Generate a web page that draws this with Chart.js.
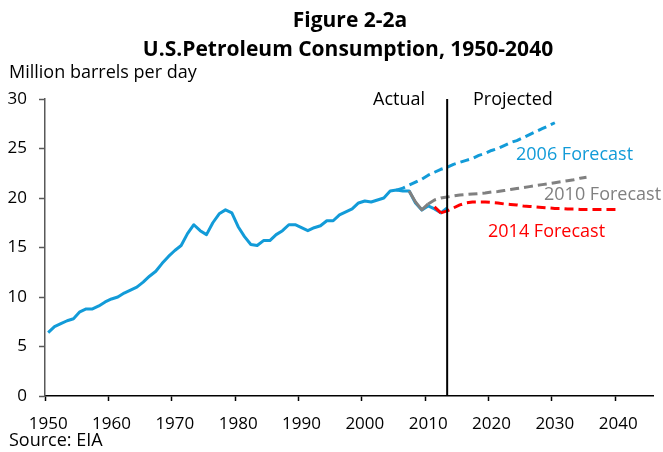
<!DOCTYPE html>
<html>
<head>
<meta charset="utf-8">
<script src="https://cdn.jsdelivr.net/npm/chart.js@4"></script>
<style>
  body { margin: 0; background: #fff; }
  #wrap { width: 663px; height: 452px; }
</style>
</head>
<body>
<div id="wrap"><canvas id="lineChart" width="663" height="452"></canvas></div>
<script>
// axis: one category per year, 1950 through 2045
var firstYear = 1950;
var lastYear = 2045;

// actual consumption, 1950-2013 (million barrels per day)
var actualStart = 1950;
var actualValues = [
    6.4, 7.0, 7.3, 7.6, 7.8, 8.5, 8.8, 8.8, 9.1, 9.5,
    9.8, 10.0, 10.4, 10.7, 11.0, 11.5, 12.1, 12.6, 13.4, 14.1,
    14.7, 15.2, 16.4, 17.3, 16.7, 16.3, 17.5, 18.4, 18.8, 18.5,
    17.1, 16.1, 15.3, 15.2, 15.7, 15.7, 16.3, 16.7, 17.3, 17.3,
    17.0, 16.7, 17.0, 17.2, 17.7, 17.7, 18.3, 18.6, 18.9, 19.5,
    19.7, 19.6, 19.8, 20.0, 20.7, 20.8, 20.7, 20.7, 19.5, 18.8,
    19.2, 18.9, 18.5, 19.0
];

// 2006 forecast, 2005-2030
var f2006Start = 2005;
var f2006Values = [
    20.8, 21.0, 21.3, 21.6, 21.9, 22.3, 22.6, 22.9, 23.1, 23.4,
    23.6, 23.8, 24.0, 24.3, 24.5, 24.8, 25.0, 25.3, 25.6, 25.8,
    26.1, 26.4, 26.7, 27.0, 27.3, 27.6
];

// 2010 forecast, 2007-2035 (solid history until 2010)
var f2010Start = 2007;
var f2010DashFrom = 2010;
var f2010Values = [
    20.7, 19.6, 18.8, 19.4, 19.8, 20.0, 20.1, 20.2, 20.3, 20.35,
    20.4, 20.45, 20.5, 20.6, 20.65, 20.75, 20.85, 20.95, 21.05, 21.15,
    21.25, 21.35, 21.45, 21.55, 21.65, 21.75, 21.85, 22.0, 22.1
];

// 2014 forecast, 2011-2040 (solid history until 2012)
var f2014Start = 2011;
var f2014DashFrom = 2012;
var f2014Values = [
    19.1, 18.5, 18.7, 19.0, 19.3, 19.5, 19.6, 19.6, 19.6, 19.55,
    19.5, 19.4, 19.35, 19.3, 19.2, 19.15, 19.1, 19.05, 19.0, 18.95,
    18.95, 18.9, 18.9, 18.85, 18.85, 18.85, 18.85, 18.85, 18.85, 18.85
];

var dividerYear = 2013;
var yTicks = [0, 5, 10, 15, 20, 25, 30];

var blue = '#129bd8';
var gray = '#808080';
var red = '#ff0000';
var font = '"Open Sans", "Noto Sans", sans-serif';

var years = [];
for (var y = firstYear; y <= lastYear; y++) years.push(y);

// put a series on the year axis (nulls outside its range)
function onAxis(start, values) {
    return years.map(function (yr) {
        var i = yr - start;
        return (i >= 0 && i < values.length) ? values[i] : null;
    });
}

function dashAfter(year) {
    var idx = years.indexOf(year);
    return function (ctx) {
        return ctx.p0DataIndex >= idx ? [9, 5] : undefined;
    };
}

var textPlugin = {
    id: 'texts',
    afterDatasetsDraw: function (chart) {
        var c = chart.ctx;
        var xs = chart.scales.x;
        var area = chart.chartArea;
        var xPos = xs.getPixelForValue(years.indexOf(dividerYear));
        c.save();
        c.strokeStyle = '#000';
        c.lineWidth = 2;
        c.beginPath();
        c.moveTo(xPos, area.top);
        c.lineTo(xPos, area.bottom);
        c.stroke();
        c.restore();
    },
    afterDraw: function (chart) {
        var c = chart.ctx;
        c.save();
        c.textBaseline = 'middle';
        c.fillStyle = '#000';
        c.textAlign = 'center';
        c.font = 'bold 21px ' + font;
        c.fillText('Figure 2-2a', 350, 21);
        c.fillText('U.S.Petroleum Consumption, 1950-2040', 348, 50);

        c.textAlign = 'left';
        c.font = '18px ' + font;
        c.fillText('Million barrels per day', 9, 73);
        c.fillText('Source: EIA', 9, 441);

        c.textAlign = 'right';
        c.fillText('Actual', 425, 100);
        c.textAlign = 'left';
        c.fillText('Projected', 473, 100);

        c.fillStyle = blue;
        c.fillText('2006 Forecast', 516, 155);
        c.fillStyle = gray;
        c.fillText('2010 Forecast', 544, 195);
        c.fillStyle = red;
        c.fillText('2014 Forecast', 488, 232);
        c.restore();
    }
};

var ctx = document.getElementById('lineChart').getContext('2d');
var lineChart = new Chart(ctx, {
    type: 'line',
    data: {
        labels: years,
        datasets: [{
            label: '2014 Forecast',
            data: onAxis(f2014Start, f2014Values),
            borderColor: red,
            borderWidth: 3,
            segment: { borderDash: dashAfter(f2014DashFrom) },
            order: 0
        }, {
            label: '2010 Forecast',
            data: onAxis(f2010Start, f2010Values),
            borderColor: gray,
            borderWidth: 3,
            segment: { borderDash: dashAfter(f2010DashFrom) },
            order: 1
        }, {
            label: '2006 Forecast',
            data: onAxis(f2006Start, f2006Values),
            borderColor: blue,
            borderWidth: 3,
            borderDash: [9, 5],
            order: 2
        }, {
            label: 'Actual',
            data: onAxis(actualStart, actualValues),
            borderColor: blue,
            borderWidth: 3,
            order: 3
        }]
    },
    options: {
        responsive: false,
        animation: false,
        layout: { padding: { top: 99, right: 10, left: 0, bottom: 0 } },
        elements: {
            point: { radius: 0 },
            line: { tension: 0, borderCapStyle: 'butt', borderJoinStyle: 'round' }
        },
        plugins: {
            legend: { display: false },
            tooltip: { enabled: false },
            title: { display: false }
        },
        scales: {
            x: {
                type: 'category',
                offset: true,
                afterFit: function (scale) { scale.height = 56; },
                grid: {
                    offset: true,
                    drawOnChartArea: false,
                    tickLength: 5,
                    tickWidth: 1.5,
                    tickColor: function (c) {
                        return (c.index % 10 === 0 && c.index < years.length) ? '#000' : 'rgba(0,0,0,0)';
                    }
                },
                border: { color: '#000', width: 1.5 },
                ticks: {
                    autoSkip: false,
                    maxRotation: 0,
                    padding: 13,
                    color: '#000',
                    font: { family: font, size: 17 },
                    callback: function (v, i) {
                        return i % 10 === 0 ? String(years[i]) : '';
                    }
                }
            },
            y: {
                min: 0,
                max: 30,
                afterFit: function (scale) { scale.width = 45; },
                afterBuildTicks: function (scale) {
                    scale.ticks = yTicks.map(function (v) { return { value: v }; });
                },
                grid: {
                    drawOnChartArea: false,
                    tickLength: 6,
                    tickWidth: 1.5,
                    tickColor: '#595959'
                },
                border: { color: '#595959', width: 1.5 },
                ticks: {
                    padding: 12,
                    color: '#000',
                    font: { family: font, size: 17 }
                }
            }
        }
    },
    plugins: [textPlugin]
});
</script>
</body>
</html>
